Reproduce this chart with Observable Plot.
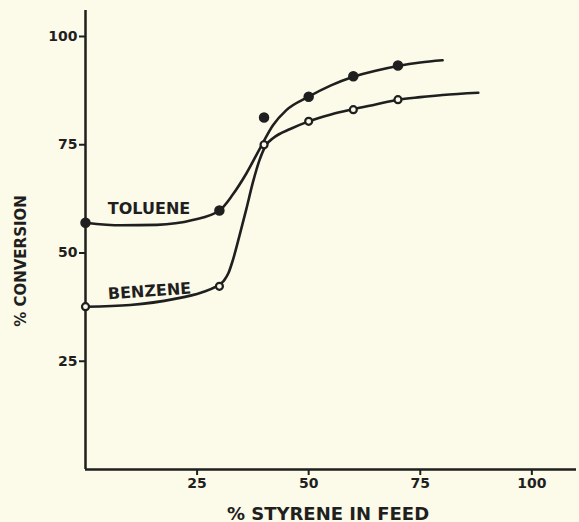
<!DOCTYPE html>
<html>
<head>
<meta charset="utf-8">
<script src="https://cdn.jsdelivr.net/npm/d3@7"></script>
<script src="https://cdn.jsdelivr.net/npm/@observablehq/plot@0.6"></script>
<style>
  html, body { margin: 0; padding: 0; background: #fcfae8; }
</style>
</head>
<body>
<div id="chart"></div>
<script>
// Measured data points
const tolueneX = [0, 30, 40, 50, 60, 70];
const tolueneY = [57, 59.8, 81.3, 86.1, 90.8, 93.3];
const benzeneX = [0, 30, 40, 50, 60, 70];
const benzeneY = [37.6, 42.3, 75, 80.4, 83.1, 85.4];

// Hand-drawn smooth curves
const tolueneCurveX = [0, 8, 16, 24, 30, 33, 36, 39, 42, 45, 50, 55, 60, 65, 70, 75, 80];
const tolueneCurveY = [57, 56.4, 56.5, 57.6, 59.8, 63.5, 68.3, 74, 79.5, 83, 86.1, 88.7, 90.7, 92.1, 93.2, 94, 94.5];
const benzeneCurveX = [0, 10, 20, 26, 29, 31, 32, 33, 34.5, 36, 37.5, 39, 40.5, 42, 46, 50, 55, 60, 65, 70, 75, 80, 88];
const benzeneCurveY = [37.6, 38, 39.4, 40.9, 42.1, 43.6, 45.3, 48.3, 54, 60, 66.3, 71.5, 75, 76.5, 78.7, 80.4, 82, 83.2, 84.3, 85.4, 86, 86.5, 87];

const xTicks = [25, 50, 75, 100];
const yTicks = [25, 50, 75, 100];
const xLabel = "% STYRENE IN FEED";
const yLabel = "% CONVERSION";
const seriesLabels = ["TOLUENE", "BENZENE"];

const zip = (xs, ys) => xs.map((x, i) => ({x, y: ys[i]}));
const tolPts = zip(tolueneX, tolueneY);
const benPts = zip(benzeneX, benzeneY);
const tolCurve = zip(tolueneCurveX, tolueneCurveY);
const benCurve = zip(benzeneCurveX, benzeneCurveY);

const ink = "#1f1f1f";
const paper = "#fcfae8";
const font = "'DejaVu Sans', sans-serif";

const chart = Plot.plot({
  width: 579,
  height: 522,
  marginLeft: 85,
  marginRight: 3,
  marginTop: 10,
  marginBottom: 53,
  x: {domain: [0, 110]},
  y: {domain: [0, 106]},
  style: {background: paper, color: ink, fontFamily: font, fontWeight: "bold", fontSize: "14px"},
  marks: [
    Plot.ruleY([0], {stroke: ink, strokeWidth: 2.5}),
    Plot.ruleX([0], {stroke: ink, strokeWidth: 2.5}),
    Plot.axisX({ticks: xTicks, tickSize: 6, tickPadding: 3, label: null, stroke: ink, strokeWidth: 2, fontSize: 14, fontWeight: "bold", fill: ink}),
    Plot.axisY({ticks: yTicks, tickSize: 6, tickPadding: 2, label: null, stroke: ink, strokeWidth: 2, fontSize: 14, fontWeight: "bold", fill: ink}),
    Plot.line(tolCurve, {x: "x", y: "y", curve: "monotone-x", stroke: ink, strokeWidth: 2.6}),
    Plot.line(benCurve, {x: "x", y: "y", curve: "monotone-x", stroke: ink, strokeWidth: 2.6}),
    Plot.dot(tolPts, {x: "x", y: "y", r: 4.5, fill: ink, stroke: ink}),
    Plot.dot(benPts, {x: "x", y: "y", r: 3.5, fill: paper, stroke: ink, strokeWidth: 2.2}),
    Plot.text([seriesLabels[0]], {x: 5, y: 59.1, text: d => d, textAnchor: "start", lineAnchor: "bottom", fontSize: 16, fontWeight: "bold", fill: ink}),
    Plot.text([seriesLabels[1]], {x: 5.1, y: 39.3, text: d => d, textAnchor: "start", lineAnchor: "bottom", rotate: -4, fontSize: 16, fontWeight: "bold", fill: ink}),
    Plot.text([yLabel], {frameAnchor: "left", dx: -64, dy: 21, rotate: -90, textAnchor: "middle", lineAnchor: "middle", text: d => d, fontSize: 15, fontWeight: "bold", fill: ink}),
    Plot.text([xLabel], {frameAnchor: "bottom", dx: -3, dy: 50, textAnchor: "middle", lineAnchor: "bottom", text: d => d, fontSize: 18, fontWeight: "bold", fill: ink})
  ]
});
document.getElementById("chart").appendChild(chart);
</script>
</body>
</html>
